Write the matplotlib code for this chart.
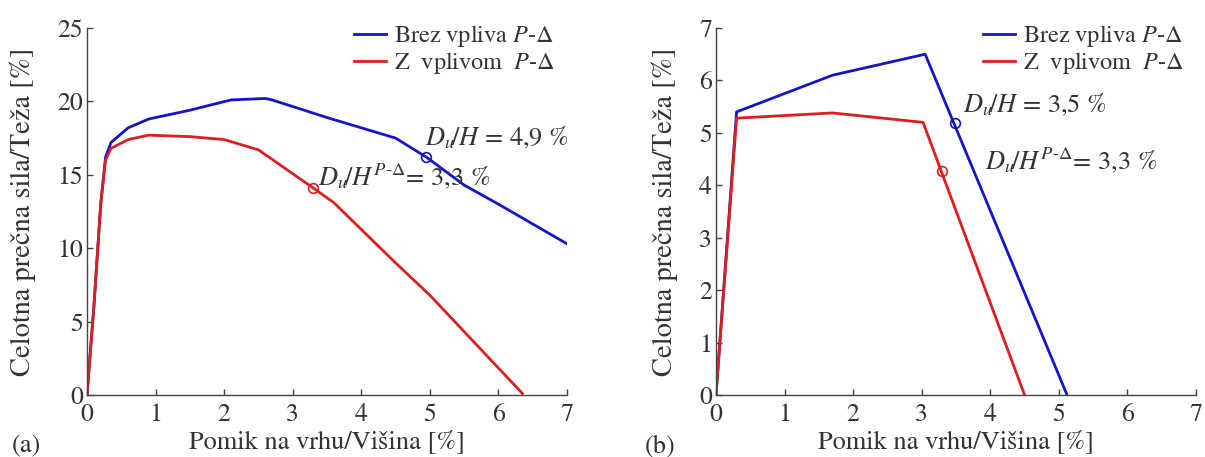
import matplotlib
matplotlib.use("Agg")
import matplotlib.pyplot as plt

plt.rcParams['font.family'] = ['STIXGeneral', 'DejaVu Serif']
plt.rcParams['mathtext.fontset'] = 'stix'

# ---- data (a) ----
a_blue_x = [0, 0.1, 0.2, 0.27, 0.35, 0.45, 0.6, 0.9, 1.5, 2.1, 2.6, 2.7, 3.5, 4.5, 4.95, 5.5, 6.0, 7.0]
a_blue_y = [0, 6.0, 13.0, 16.2, 17.2, 17.6, 18.2, 18.8, 19.4, 20.1, 20.2, 20.1, 18.9, 17.5, 16.2, 14.3, 13.0, 10.3]
a_red_x = [0, 0.1, 0.2, 0.27, 0.35, 0.6, 0.9, 1.5, 2.0, 2.5, 3.3, 3.6, 4.5, 5.0, 6.35]
a_red_y = [0, 6.0, 13.0, 16.0, 16.8, 17.4, 17.7, 17.6, 17.4, 16.7, 14.1, 13.1, 9.0, 6.8, 0.1]
a_mark_blue = (4.95, 16.2)
a_mark_red = (3.3, 14.1)

# ---- data (b) ----
b_blue_x = [0, 0.3, 1.7, 3.05, 5.12]
b_blue_y = [0, 5.4, 6.1, 6.5, 0]
b_red_x = [0, 0.3, 1.7, 3.02, 4.5]
b_red_y = [0, 5.28, 5.38, 5.2, 0]
b_mark_blue = (3.48, 5.18)
b_mark_red = (3.3, 4.28)

xticks = [0, 1, 2, 3, 4, 5, 6, 7]
a_yticks = [0, 5, 10, 15, 20, 25]
b_yticks = [0, 1, 2, 3, 4, 5, 6, 7]

label_blue = r"Brez vpliva $\mathit{P}$-$\mathit{\Delta}$"
label_red = r"Z  vplivom  $\mathit{P}$-$\mathit{\Delta}$"
xlabel = "Pomik na vrhu/Višina [%]"
ylabel = "Celotna prečna sila/Teža [%]"

BLUE = '#1414c8'
RED = '#dc1e1e'
TXT = '#333333'
FS = 19

W, H = 1205, 457
fig = plt.figure(figsize=(W/100, H/100), dpi=100)

def make_ax(left_px, right_px, top_px, bottom_px):
    return fig.add_axes([left_px/W, 1-bottom_px/H, (right_px-left_px)/W, (bottom_px-top_px)/H])

def style(ax, ymax, yticks):
    ax.set_xlim(0, 7)
    ax.set_ylim(0, ymax)
    ax.set_xticks(xticks)
    ax.set_yticks(yticks)
    for s in ['top', 'right']:
        ax.spines[s].set_visible(False)
    for s in ['left', 'bottom']:
        ax.spines[s].set_color('#444444')
        ax.spines[s].set_linewidth(1.0)
    ax.tick_params(direction='in', length=4, width=1, colors='#444444',
                   labelcolor=TXT, labelsize=18.5, pad=3)
    ax.tick_params(axis='x', pad=6)
    ax.set_xlabel(xlabel, fontsize=FS, color=TXT, labelpad=2)
    ax.set_ylabel(ylabel, fontsize=20.5, color=TXT, labelpad=15)
    leg = ax.legend(loc='upper right', bbox_to_anchor=(0.995, 1.04), frameon=False,
                    fontsize=17.5, handlelength=1.35, handletextpad=0.3,
                    labelspacing=0.05, borderaxespad=0)
    for t in leg.get_texts():
        t.set_color(TXT)

# panel (a)
ax1 = make_ax(87, 567, 28, 395)
ax1.plot(a_blue_x, a_blue_y, color=BLUE, lw=2, label=label_blue)
ax1.plot(a_red_x, a_red_y, color=RED, lw=2, label=label_red)
ax1.plot(*a_mark_blue, 'o', mfc='none', mec=BLUE, ms=7, mew=1.2)
ax1.plot(*a_mark_red, 'o', mfc='none', mec=RED, ms=7, mew=1.2)
style(ax1, 25, a_yticks)
ax1.text(4.93, 17.5, r"$D_u\!/H$ = 4,9 %", fontsize=FS, color=TXT, va='center', ha='left')
ax1.text(3.37, 14.9, r"$D_u\!/H^{P\text{-}\mathit{\Delta}}$= 3,3 %", fontsize=FS, color=TXT, va='center', ha='left')
fig.text(12/W, 1-446/H, "(a)", fontsize=FS, color=TXT, ha='left', va='center')

# panel (b)
ax2 = make_ax(716, 1196, 28, 395)
ax2.plot(b_blue_x, b_blue_y, color=BLUE, lw=2, label=label_blue)
ax2.plot(b_red_x, b_red_y, color=RED, lw=2, label=label_red)
ax2.plot(*b_mark_blue, 'o', mfc='none', mec=BLUE, ms=7, mew=1.2)
ax2.plot(*b_mark_red, 'o', mfc='none', mec=RED, ms=7, mew=1.2)
style(ax2, 7, b_yticks)
ax2.text(3.6, 5.52, r"$D_u\!/H$ = 3,5 %", fontsize=FS, color=TXT, va='center', ha='left')
ax2.text(3.93, 4.48, r"$D_u\!/H^{P\text{-}\mathit{\Delta}}$= 3,3 %", fontsize=FS, color=TXT, va='center', ha='left')
fig.text(645/W, 1-446/H, "(b)", fontsize=FS, color=TXT, ha='left', va='center')

fig.savefig("out.png", dpi=100)
